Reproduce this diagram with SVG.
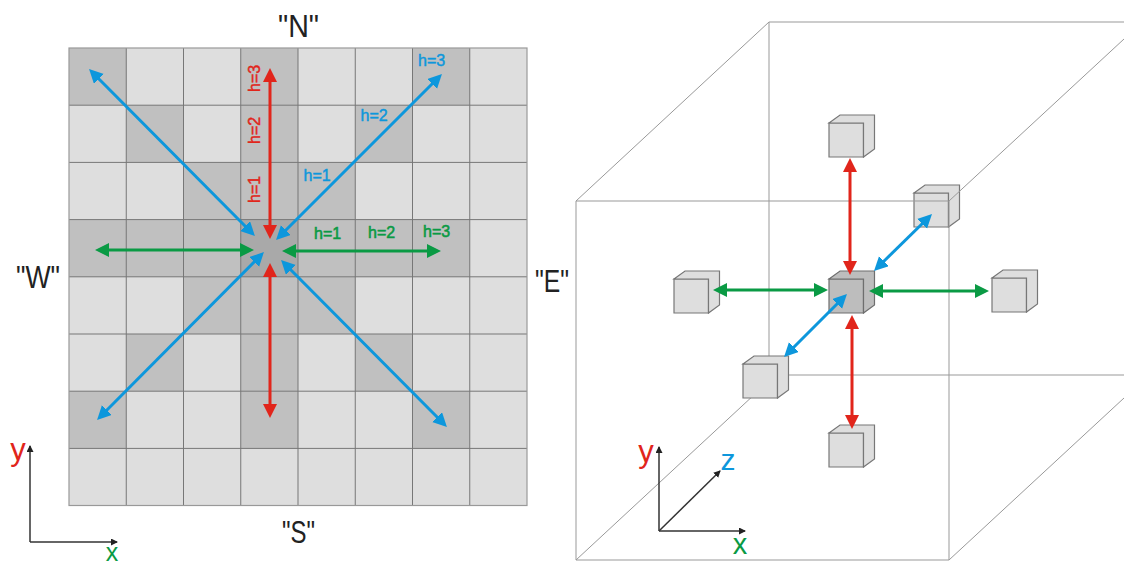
<svg xmlns="http://www.w3.org/2000/svg" width="1124" height="566" viewBox="0 0 1124 566">
<style>
text{font-family:"Liberation Sans",Arial,sans-serif}
.c{fill:#dedede}.d{fill:#c0c0c0}.k{fill:#a9a9a9}
.g{stroke:#777;stroke-width:1;fill:none}
.o{fill:none;stroke:#999;stroke-width:1.2}
.b{stroke:#999;stroke-width:1;fill:none}
.f{fill:#dedede;stroke:#777;stroke-width:1.2}
.fk{fill:#bdbdbd;stroke:#6e6e6e;stroke-width:1.2}
.red{stroke:#e1251b;stroke-width:3;fill:none;marker-start:url(#mr);marker-end:url(#mr)}
.grn{stroke:#0a9a44;stroke-width:3;fill:none;marker-start:url(#mg);marker-end:url(#mg)}
.blu{stroke:#0d97dc;stroke-width:3;fill:none;marker-start:url(#mb);marker-end:url(#mb)}
.ax{stroke:#333;stroke-width:1.5;fill:none;marker-end:url(#mk)}
.hb{fill:#0d97dc;stroke:#0d97dc;stroke-width:.45;font-size:16px}
.hg{fill:#0a9a44;stroke:#0a9a44;stroke-width:.55;font-size:16px}
.hr{fill:#e1251b;stroke:#e1251b;stroke-width:.45;font-size:16px}
.dir{fill:#222;font-size:32px}
.ly{fill:#e1251b;font-size:31px}.lx{fill:#0a9a44;font-size:29px}.lz{fill:#0d97dc;font-size:30px}
</style>
<defs>
<marker id="mr" markerUnits="userSpaceOnUse" markerWidth="15" markerHeight="15" refX="7" refY="7" orient="auto-start-reverse"><path d="M0,0L14,7L0,14z" fill="#e1251b"/></marker>
<marker id="mg" markerUnits="userSpaceOnUse" markerWidth="15" markerHeight="15" refX="7" refY="7" orient="auto-start-reverse"><path d="M0,0L14,7L0,14z" fill="#0a9a44"/></marker>
<marker id="mb" markerUnits="userSpaceOnUse" markerWidth="15" markerHeight="15" refX="7" refY="7" orient="auto-start-reverse"><path d="M0,0L14,7L0,14z" fill="#0d97dc"/></marker>
<marker id="mk" markerUnits="userSpaceOnUse" markerWidth="8" markerHeight="8" refX="6" refY="3.5" orient="auto"><path d="M0,0L7,3.5L0,7z" fill="#222"/></marker>
<g id="cube-shape"><path class="f" d="M0,0h34.500v34h-34.500z"/><path class="f" d="M0,0l11,-8h34.500v34l-11,8v-34h-34.500z"/></g>
</defs>

<g id="grid">
<rect class="c" x="69" y="48" width="458" height="457.500"/>
<g class="d">
<rect x="69" y="48" width="57.250" height="57.200"/><rect x="240.750" y="48" width="57.250" height="57.200"/><rect x="412.500" y="48" width="57.250" height="57.200"/>
<rect x="126.250" y="105.200" width="57.250" height="57.200"/><rect x="240.750" y="105.200" width="57.250" height="57.200"/><rect x="355.250" y="105.200" width="57.250" height="57.200"/>
<rect x="183.500" y="162.400" width="171.750" height="57.200"/>
<rect x="69" y="219.600" width="400.750" height="57.200"/>
<rect x="183.500" y="276.800" width="171.750" height="57.200"/>
<rect x="126.250" y="334" width="57.250" height="57.200"/><rect x="240.750" y="334" width="57.250" height="57.200"/><rect x="355.250" y="334" width="57.250" height="57.200"/>
<rect x="69" y="391.200" width="57.250" height="57.200"/><rect x="240.750" y="391.200" width="57.250" height="57.200"/><rect x="412.500" y="391.200" width="57.250" height="57.200"/>
</g>
<rect class="k" x="240.750" y="219.600" width="57.250" height="57.200"/>
<path class="g" d="M126.250,48V505.500M183.500,48V505.500M240.750,48V505.500M298,48V505.500M355.250,48V505.500M412.500,48V505.500M469.750,48V505.500M69,105.200H527M69,162.400H527M69,219.600H527M69,276.800H527M69,334H527M69,391.200H527M69,448.400H527"/>
<rect class="o" x="69" y="48" width="458" height="457.500"/>
</g>

<g id="box-back">
<path class="b" d="M769,22V375M769,22H1124M769,375H1124M576,201L769,22M576,560L769,381"/>
</g>

<g id="cube-top"><use href="#cube-shape" x="829" y="123"/></g>
<g id="cube-west"><use href="#cube-shape" x="674" y="279"/></g>
<g id="cube-east"><use href="#cube-shape" x="992" y="278"/></g>
<g id="cube-back"><use href="#cube-shape" x="914" y="193"/></g>
<g id="cube-front"><use href="#cube-shape" x="743" y="364"/></g>
<g id="cube-bottom"><use href="#cube-shape" x="829" y="433"/></g>
<g id="cube-center">
<path class="fk" d="M829,279h34.500v34h-34.500z"/>
<path class="fk" d="M829,279l11,-8h34.500v34l-11,8v-34h-34.500z"/>
</g>

<g id="box-front">
<path class="b" d="M576,201H949V560H576zM949,201L1124,39M949,560L1124,398"/>
</g>

<g id="connectors">
<path class="red" d="M270,75V232"/>
<path class="red" d="M270,270V411"/>
<path class="grn" d="M102,250H247"/>
<path class="grn" d="M289,251H434"/>
<path class="blu" d="M94,74L250,231"/>
<path class="blu" d="M437,79L281,235"/>
<path class="blu" d="M102,415L259,257"/>
<path class="blu" d="M442,422L286,265"/>
<path class="red" d="M850,165V268"/>
<path class="red" d="M852,322V422"/>
<path class="grn" d="M720,290H821"/>
<path class="grn" d="M876,291H982"/>
<path class="blu" d="M927,219L879,266"/>
<path class="blu" d="M842,299L789,352"/>
<path class="ax" d="M30,542V446"/>
<path class="ax" d="M30,542H117"/>
<path class="ax" d="M659,531V447"/>
<path class="ax" d="M659,531H745"/>
<path class="ax" d="M659,531L720,471"/>
</g>

<g id="labels">
<text class="hb" x="303.500" y="181">h=1</text>
<text class="hb" x="360.500" y="121">h=2</text>
<text class="hb" x="418" y="66">h=3</text>
<text class="hg" x="314" y="239">h=1</text>
<text class="hg" x="368" y="238">h=2</text>
<text class="hg" x="423" y="237">h=3</text>
<text class="hr" transform="translate(260,203) rotate(-90)">h=1</text>
<text class="hr" transform="translate(260,144) rotate(-90)">h=2</text>
<text class="hr" transform="translate(260,92) rotate(-90)">h=3</text>
<text class="dir" x="278" y="37" textLength="41" lengthAdjust="spacingAndGlyphs">"N"</text>
<text class="dir" x="282" y="543" textLength="33" lengthAdjust="spacingAndGlyphs">"S"</text>
<text class="dir" x="16" y="288" textLength="44" lengthAdjust="spacingAndGlyphs">"W"</text>
<text class="dir" x="535" y="292" textLength="34" lengthAdjust="spacingAndGlyphs">"E"</text>
<text class="ly" x="18" y="459.500" text-anchor="middle">y</text>
<text class="lx" x="112" y="561" text-anchor="middle" style="font-size:25px">x</text>
<text class="ly" x="646" y="462" text-anchor="middle">y</text>
<text class="lz" x="728" y="470" text-anchor="middle">z</text>
<text class="lx" x="740" y="554" text-anchor="middle">x</text>
</g>
</svg>
